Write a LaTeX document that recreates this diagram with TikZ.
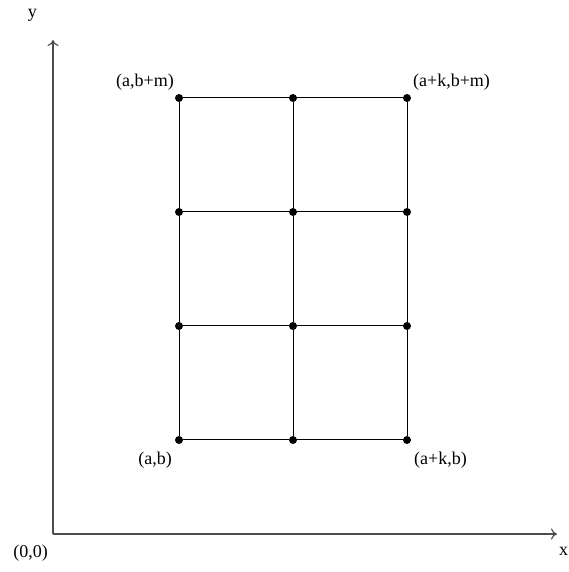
\documentclass[tikz,border=0pt]{standalone}
\usepackage{fontspec}
\setmainfont{Liberation Serif}
\usetikzlibrary{arrows.meta, positioning}

\begin{document}
\begin{tikzpicture}[
    x=1pt, y=1pt,
    node distance=4pt and 2pt,
    dot/.style={circle, fill=black, inner sep=0pt, minimum size=8pt},
    lbl/.style={inner sep=0pt, font=\fontsize{18}{20}\selectfont},
    axis/.style={draw=black!70, line width=1.1pt, -{To[length=6pt, width=11pt]}},
    grid/.style={draw, line width=1pt}
]
\useasboundingbox (0,0) rectangle (568,572);

% axes
\coordinate (o) at (53,38);
\coordinate (xend) at (557,38);
\coordinate (yend) at (53,532);
\path [axis] (o) -- (xend);
\path [axis] (o) -- (yend);
\node [lbl, above left=18pt and 16pt of yend] (ylab) {y};
\node [lbl, below right=13pt and 2pt of xend] (xlab) {x};
\node [lbl, below left=11pt and 5pt of o] (origin) {(0,0)};

% points of the grid
\node [dot] (a1) at (179,132) {};
\node [dot] (a2) at (179,246) {};
\node [dot] (a3) at (179,360) {};
\node [dot] (a4) at (179,474) {};
\node [dot] (b1) at (293,132) {};
\node [dot] (b2) at (293,246) {};
\node [dot] (b3) at (293,360) {};
\node [dot] (b4) at (293,474) {};
\node [dot] (c1) at (407,132) {};
\node [dot] (c2) at (407,246) {};
\node [dot] (c3) at (407,360) {};
\node [dot] (c4) at (407,474) {};

\path [grid] (a1) -- (a2) -- (a3) -- (a4);
\path [grid] (b1) -- (b2) -- (b3) -- (b4);
\path [grid] (c1) -- (c2) -- (c3) -- (c4);
\path [grid] (a1) -- (b1) -- (c1);
\path [grid] (a2) -- (b2) -- (c2);
\path [grid] (a3) -- (b3) -- (c3);
\path [grid] (a4) -- (b4) -- (c4);

% corner labels
\node [lbl, above left=4pt and 2pt of a4] (tl) {(a,b+m)};
\node [lbl, above right=4pt and 3pt of c4] (tr) {(a+k,b+m)};
\node [lbl, below left=9pt and 4pt of a1] (bl) {(a,b)};
\node [lbl, below right=9pt and 4pt of c1] (br) {(a+k,b)};

\end{tikzpicture}
\end{document}
